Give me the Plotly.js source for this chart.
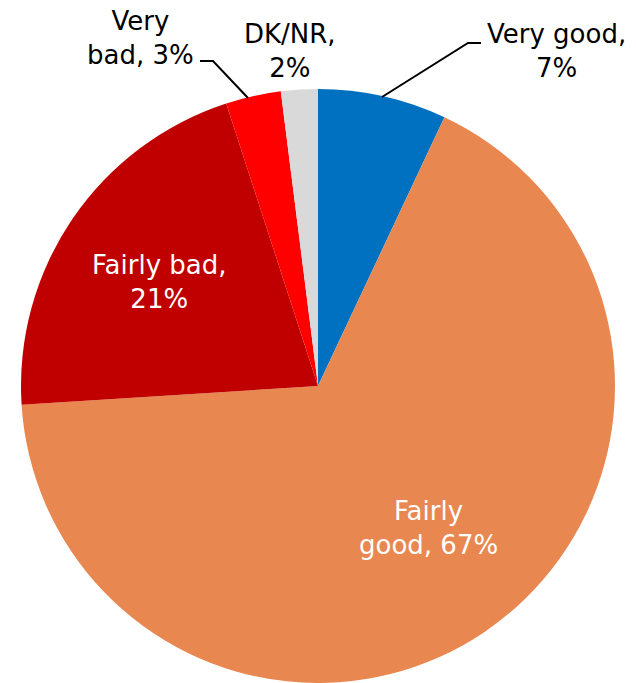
<!DOCTYPE html>
<html>
<head>
<meta charset="utf-8">
<script src="https://cdn.plot.ly/plotly-3.0.1.min.js"></script>
<style>html,body{margin:0;padding:0;overflow:hidden;background:#fff}</style>
</head>
<body>
<div id="chart" style="width:636px;height:683px"></div>
<script>
// Data
const categories = ["Very good", "Fairly good", "Fairly bad", "Very bad", "DK/NR"];
const values = [7, 67, 21, 3, 2];
const colors = ["#0070C0", "#E8874F", "#C00000", "#FF0000", "#D9D9D9"];
// label text with line breaks as shown
const labelLines = [
  ["Very good,", "{v}%"],
  ["Fairly", "good, {v}%"],
  ["Fairly bad,", "{v}%"],
  ["Very", "bad, {v}%"],
  ["DK/NR,", "{v}%"]
];

// Layout helpers (pixel -> paper)
const W = 636, H = 683;
const px = x => x / W;
const py = y => 1 - y / H;

const labelPos = [[556, 51], [428, 528], [159, 282], [140, 38], [290, 51]];
const labelColor = ["#000", "#fff", "#fff", "#000", "#000"];

const annotations = categories.map((c, i) => ({
  text: labelLines[i].map(s => s.replace("{v}", values[i])).join("<br>"),
  x: px(labelPos[i][0]), y: py(labelPos[i][1]),
  xref: "paper", yref: "paper",
  xanchor: "center", yanchor: "middle",
  showarrow: false,
  font: {family: "DejaVu Sans", size: 26, color: labelColor[i]}
}));

function path(pts) {
  return pts.map((p, i) => (i ? "L" : "M") + px(p[0]) + "," + py(p[1])).join(" ");
}
const shapes = [
  {type: "path", xref: "paper", yref: "paper", path: path([[382, 97], [468, 43], [481, 43]]), line: {color: "#000", width: 2}},
  {type: "path", xref: "paper", yref: "paper", path: path([[248, 98], [213, 61], [200, 61]]), line: {color: "#000", width: 2}}
];

const trace = {
  type: "pie",
  labels: categories,
  values: values,
  sort: false,
  direction: "clockwise",
  rotation: 0,
  marker: {colors: colors, line: {width: 0}},
  textinfo: "none",
  hoverinfo: "label+percent",
  showlegend: false,
  domain: {x: [20 / W, 616 / W], y: [0, 1 - 89 / H]}
};

Plotly.newPlot("chart", [trace], {
  width: W, height: H,
  margin: {l: 0, r: 0, t: 0, b: 0},
  paper_bgcolor: "#fff",
  showlegend: false,
  annotations: annotations,
  shapes: shapes
}, {displayModeBar: false, staticPlot: true});
</script>
</body>
</html>
